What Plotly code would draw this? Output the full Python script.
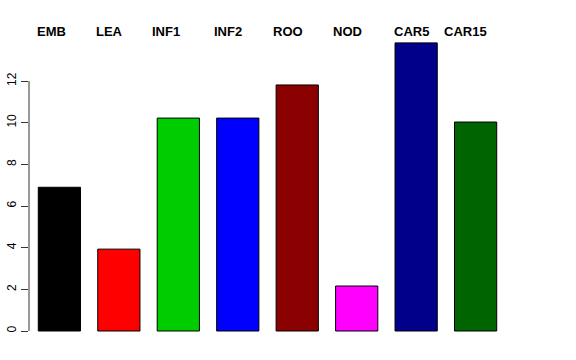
import plotly.graph_objects as go

categories = ["EMB", "LEA", "INF1", "INF2", "ROO", "NOD", "CAR5", "CAR15"]
values = [6.9, 3.93, 10.22, 10.22, 11.81, 2.16, 13.83, 10.03]
bar_colors = ["#000000", "#FF0000", "#00CD00", "#0000FF", "#8B0000", "#FF00FF", "#00008B", "#006400"]
ytick_vals = [0, 2, 4, 6, 8, 10, 12]
ytick_text = ["0", "2", "4", "6", "8", "10", "12"]

label_shift = [-8, -9.5, -12.5, -10, -9.5, -9, -5, -10.5]

fig = go.Figure()
fig.add_trace(go.Bar(
    x=categories, y=values,
    marker=dict(color=bar_colors, line=dict(color="#000000", width=1)),
    width=0.71,
    showlegend=False,
))

for cat, sh in zip(categories, label_shift):
    fig.add_annotation(
        x=cat, xref="x", y=1, yref="paper", yanchor="middle", xanchor="center",
        xshift=sh, text="<b>%s</b>" % cat, showarrow=False,
        font=dict(family="Liberation Sans, Arial, sans-serif", size=13, color="#000000"),
    )

# R-style y axis line spanning only the tick range
fig.add_shape(type="line", xref="paper", yref="y", x0=0, x1=0,
              y0=ytick_vals[0], y1=ytick_vals[-1],
              line=dict(color="#333333", width=1))

fig.update_layout(
    template="none",
    width=576, height=360,
    margin=dict(l=29, r=70, t=31, b=17, pad=0, autoexpand=False),
    paper_bgcolor="white", plot_bgcolor="white",
    font=dict(family="Liberation Sans, Arial, sans-serif", size=12, color="#000000"),
    xaxis=dict(range=[-0.511, 7.511], showticklabels=False, showgrid=False,
               zeroline=False, showline=False, ticks="", automargin=False),
    yaxis=dict(range=[-0.576, 14.4], tickvals=ytick_vals, ticktext=ytick_text,
               tickangle=-90, ticks="outside", ticklen=7, tickcolor="#333333",
               showgrid=False, zeroline=False, showline=False, automargin=False,
               tickfont=dict(size=12, color="#000000")),
)

fig.write_html("out.html", config={"displayModeBar": False},
               post_script="document.body.style.margin='0';")
